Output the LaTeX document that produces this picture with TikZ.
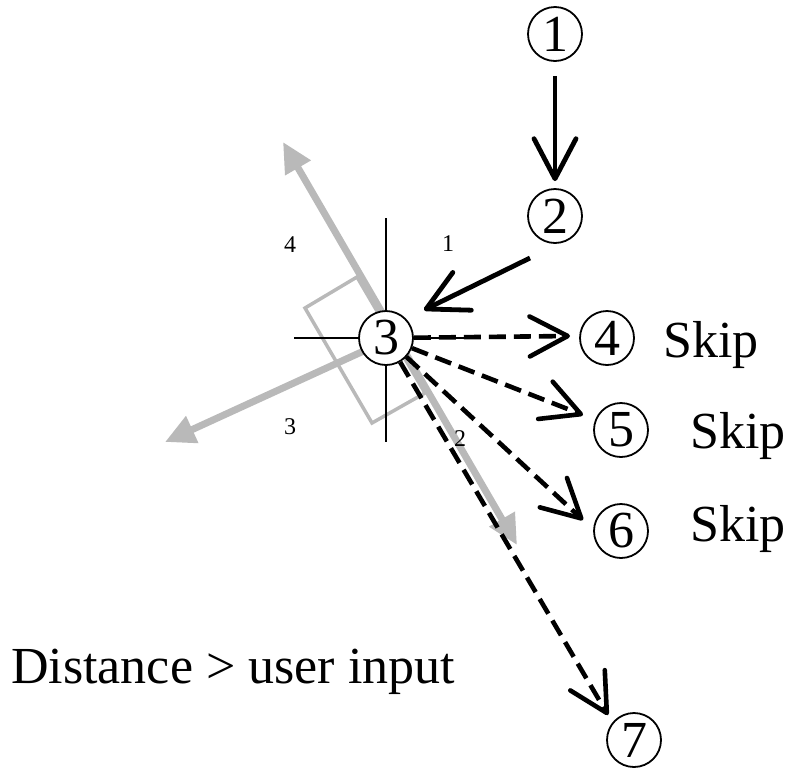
\documentclass[tikz,border=0pt]{standalone}
\usepackage{fontspec}
\setmainfont{Liberation Serif}
\usetikzlibrary{arrows.meta,calc}
\definecolor{gr}{RGB}{185,185,185}
\tikzset{
  num/.style={circle,draw,line width=1.8pt,fill=white,minimum size=54pt,inner sep=0pt,font=\fontsize{52}{54}\selectfont},
  big/.style={font=\fontsize{52}{56}\selectfont,anchor=base west,inner sep=0pt},
  quad/.style={font=\fontsize{24}{26}\selectfont,inner sep=0pt},
  solidarr/.style={line width=4.8pt,-{Straight Barb[length=40pt,width=42pt,line cap=round,round]}},
  dasharr/.style={line width=4.6pt,dash pattern=on 17pt off 8pt,-{Straight Barb[length=38pt,width=40pt,line cap=round,round]}},
  grayarr/.style={draw=gr,line width=7pt,{Triangle[length=30pt,width=28pt]}-{Triangle[length=30pt,width=28pt]}},
  grayarrone/.style={draw=gr,line width=7pt,-{Triangle[length=30pt,width=28pt]}},
  cross/.style={line width=2.2pt},
}
\begin{document}
\begin{tikzpicture}[x=1pt,y=-1pt]
\useasboundingbox (0,0) rectangle (787,769);
% gray frame and axes
\draw[gr,line width=3.5pt] (357,277) -- (425,393) -- (372,423) -- (305,308) -- cycle;
\draw[grayarr] (283,142) -- (517,545);
\draw[grayarrone] (392,338) -- (165,442);
% crosshair
\draw[cross] (294,338) -- (478,338);
\draw[cross] (386,218) -- (386,442);
% nodes
\node[num] (n1) at (555,34) {1};
\node[num] (n2) at (555,216) {2};
\node[num] (n3) at (386,338) {3};
\node[num] (n4) at (607,338) {4};
\node[num] (n5) at (621,430) {5};
\node[num] (n6) at (621,531) {6};
\node[num] (n7) at (634,740) {7};
% labels
\node[big] (s4) at (663,357) {Skip};
\node[big] (s5) at (690,448) {Skip};
\node[big] (s6) at (690,541) {Skip};
\node[big] (dist) at (11,683) {Distance > user input};
\node[quad] (q1) at (448,244) {1};
\node[quad] (q2) at (460,439) {2};
\node[quad] (q3) at (290,427) {3};
\node[quad] (q4) at (290,245) {4};
% connectors
\draw[solidarr,shorten <=14pt,shorten >=7pt] (n1) -- (n2);
\draw[solidarr] ($(n2)+(-25,42)$) -- ($(n3)+(38,-28)$);
\draw[dasharr] (n3) -- ($(n4)+(-37,-2)$);
\draw[dasharr] (n3) -- ($(n5)+(-38,-15)$);
\draw[dasharr] (n3) -- ($(n6)+(-38,-11)$);
\draw[dasharr] (n3) -- ($(n7)+(-26,-25)$);
\end{tikzpicture}
\end{document}
